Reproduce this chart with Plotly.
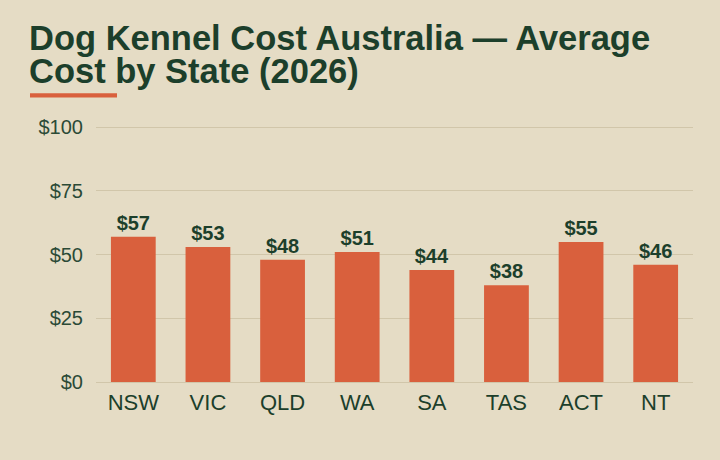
import plotly.graph_objects as go

# chart data
states = ["NSW", "VIC", "QLD", "WA", "SA", "TAS", "ACT", "NT"]
avg_cost = [57, 53, 48, 51, 44, 38, 55, 46]
y_ticks = [0, 25, 50, 75, 100]
y_tick_labels = ["$0", "$25", "$50", "$75", "$100"]
title_lines = ["Dog Kennel Cost Australia — Average", "Cost by State (2026)"]

BG = "#e5dcc5"
BAR = "#d9603d"
INK = "#1c3f2b"
GRID = "#d1c6aa"
FONT = "Liberation Sans, Arial, sans-serif"

W, H = 720, 460
M_L, M_R, M_T, M_B = 96, 27, 126, 78
plot_w = W - M_L - M_R
plot_h = H - M_T - M_B


def px_x(x):
    """Pixel x -> paper x."""
    return (x - M_L) / plot_w


def px_y(y):
    """Pixel y (from top) -> paper y."""
    return (H - M_B - y) / plot_h


fig = go.Figure(go.Bar(
    x=states,
    y=avg_cost,
    marker=dict(color=BAR, line=dict(width=0)),
    text=["$%d" % v for v in avg_cost],
    textposition="outside",
    cliponaxis=False,
    textfont=dict(family=FONT, size=20, color=INK, weight="bold"),
    hoverinfo="skip",
))

# two-line title as separate annotations for tight line spacing
for i, line in enumerate(title_lines):
    fig.add_annotation(
        text="<b>%s</b>" % line,
        xref="paper", yref="paper",
        x=px_x(27), y=px_y(50 + i * 33.3),
        xanchor="left", yanchor="bottom", yshift=-9,
        showarrow=False,
        font=dict(family=FONT, size=34.5, color=INK),
    )

# orange accent under the title
fig.add_shape(
    type="rect", xref="paper", yref="paper",
    x0=px_x(30), x1=px_x(117), y0=px_y(97.5), y1=px_y(93.3),
    fillcolor=BAR, line=dict(width=0),
)

fig.update_layout(
    width=W, height=H,
    margin=dict(l=M_L, r=M_R, t=M_T, b=M_B),
    paper_bgcolor=BG, plot_bgcolor=BG,
    bargap=0.4,
    showlegend=False,
    font=dict(family=FONT, color=INK),
    xaxis=dict(
        showgrid=False, zeroline=False, showline=False,
        ticks="", ticklabelstandoff=5,
        tickfont=dict(size=22, color=INK),
    ),
    yaxis=dict(
        range=[0, 100.5],
        tickvals=y_ticks, ticktext=y_tick_labels,
        showgrid=True, gridcolor=GRID, gridwidth=1,
        zeroline=True, zerolinecolor=GRID, zerolinewidth=1,
        showline=False, ticks="",
        ticklabelstandoff=12,
        tickfont=dict(size=20, color="#2b4a36"),
    ),
)

# drop the default page margin so the figure fills the window
fig.write_html(
    "out.html",
    config={"displayModeBar": False},
    post_script="document.body.style.margin='0';document.body.style.background='%s';" % BG,
)
